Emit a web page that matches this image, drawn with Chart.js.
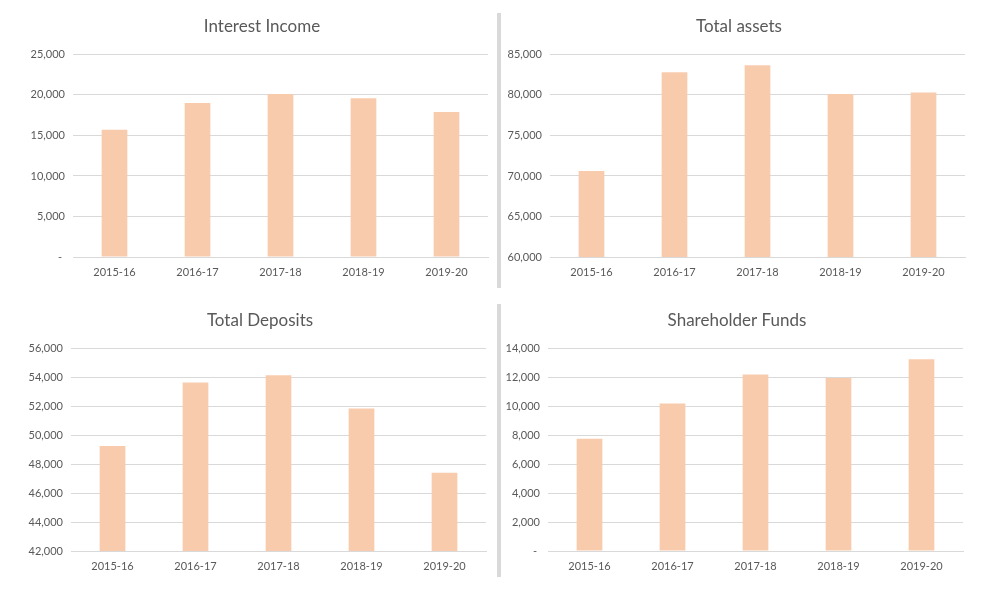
<!DOCTYPE html>
<html>
<head>
<meta charset="utf-8">
<script src="https://cdn.jsdelivr.net/npm/chart.js@4.4.1/dist/chart.umd.min.js"></script>
<style>
  body { margin: 0; background: #fff; width: 1000px; height: 600px; position: relative; overflow: hidden; }
  .panel { position: absolute; }
  .sep { position: absolute; left: 497px; width: 4px; background: #d9d9d9; }
</style>
</head>
<body>
<div class="panel" style="left:0;top:0"><canvas id="c1" width="524" height="290"></canvas></div>
<div class="panel" style="left:502px;top:0"><canvas id="c2" width="474" height="290"></canvas></div>
<div class="panel" style="left:0;top:294px"><canvas id="c3" width="520" height="290"></canvas></div>
<div class="panel" style="left:502px;top:294px"><canvas id="c4" width="470" height="290"></canvas></div>
<div class="sep" style="top:13px;height:275px"></div>
<div class="sep" style="top:304px;height:273px"></div>
<script>
// Financial years on the x axis
const years = ["2015-16", "2016-17", "2017-18", "2018-19", "2019-20"];

// Values
const interestIncome   = [15700, 19000, 20100, 19600, 17900];
const totalAssets      = [70600, 82800, 83650, 80100, 80300];
const totalDeposits    = [49250, 53650, 54150, 51850, 47400];
const shareholderFunds = [7750, 10200, 12200, 11950, 13250];

// Y axis ranges [min, max, step]
const incomeAxis   = [0, 25000, 5000];
const assetsAxis   = [60000, 85000, 5000];
const depositsAxis = [42000, 56000, 2000];
const fundsAxis    = [0, 14000, 2000];

const barColor  = "#F8CBAD";
const gridColor = "#d9d9d9";
const textColor = "#595959";
const fontName  = "Lato, 'Open Sans', sans-serif";

// canvas is sized so the title centre lands where the original has it;
// an empty right axis keeps the plot area in place
const makeChart = (id, title, values, axis, yWidth, rightPad) => {
  const [min, max, step] = axis;
  new Chart(document.getElementById(id), {
    type: "bar",
    data: {
      labels: years,
      datasets: [{
        label: title,
        data: values,
        backgroundColor: barColor,
        barPercentage: 0.31,
        categoryPercentage: 1
      }]
    },
    options: {
      responsive: false,
      animation: false,
      layout: { padding: { left: 0, right: 0, top: 0, bottom: 8 } },
      plugins: {
        legend: { display: false },
        tooltip: { enabled: false },
        title: {
          display: true,
          text: title,
          color: textColor,
          font: { family: fontName, size: 17, weight: "normal" },
          padding: { top: 16, bottom: 18 }
        }
      },
      scales: {
        x: {
          grid: { display: false },
          border: { display: true, color: gridColor },
          ticks: { color: textColor, font: { family: fontName, size: 11 }, padding: 1, maxRotation: 0 },
          afterFit: s => { s.height = 25; }
        },
        y: {
          min: min,
          max: max,
          grid: { color: gridColor, drawTicks: false },
          border: { display: false },
          ticks: {
            stepSize: step,
            color: textColor,
            padding: 8,
            font: { family: fontName, size: 11 },
            callback: v => v === 0 ? "- " : v.toLocaleString("en-US")
          },
          afterFit: s => { s.width = yWidth; }
        },
        spacer: {
          type: "linear",
          position: "right",
          grid: { display: false },
          border: { display: false },
          ticks: { display: false },
          afterFit: s => { s.width = rightPad; }
        }
      }
    }
  });
};

makeChart("c1", "Interest Income",   interestIncome,   incomeAxis,   73, 36);
makeChart("c2", "Total assets",      totalAssets,      assetsAxis,   48, 11);
makeChart("c3", "Total Deposits",    totalDeposits,    depositsAxis, 71, 34);
makeChart("c4", "Shareholder Funds", shareholderFunds, fundsAxis,    46, 9);
</script>
</body>
</html>
